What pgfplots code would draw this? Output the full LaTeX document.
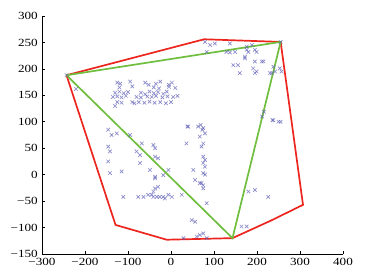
\documentclass[border=0pt]{standalone}
\usepackage{fontspec}
\setmainfont{Liberation Serif}
\usepackage{pgfplots}
\pgfplotsset{compat=1.18}
\definecolor{ptcol}{RGB}{90,90,180}
\definecolor{hullred}{RGB}{236,38,30}
\definecolor{hullgreen}{RGB}{112,190,62}
\begin{document}
\begin{tikzpicture}
\begin{axis}[
  scale only axis,
  width=301bp, height=238bp,
  xmin=-300, xmax=400, ymin=-150, ymax=300,
  axis lines*=left,
  axis line style={black, line width=0.9bp},
  tick align=inside,
  major tick length=3bp,
  tick style={black, line width=0.7bp},
  xtick={-300,-200,...,400},
  xticklabels={−300,−200,−100,0,100,200,300,400},
  ytick={-150,-100,...,300},
  yticklabels={−150,−100,−50,0,50,100,150,200,250,300},
  tick label style={font=\fontsize{11}{11}\selectfont, /tikz/xscale=1.2, /tikz/transform shape},
  xticklabel style={yshift=-1bp},
  clip=false,
]
\addplot[only marks, mark=x, mark size=2.5bp, mark options={ptcol, line width=0.65bp, opacity=0.7}] coordinates {
(-243,188) (-221,162)
(-125,174) (-118,172) (-95,176) (-60,174) (-52,170) (-35,172) (-25,176) (-5,170) (2,174)
(-120,165) (-90,167) (-40,165) (-28,163) (-5,166) (10,164)
(-130,155) (-120,157) (-110,154) (-100,156) (-70,155) (-60,152) (-50,157) (-40,154) (-30,156) (-18,153) (-10,157)
(-135,147) (-125,148) (-115,146) (-105,149) (-80,147) (-70,146) (-55,148) (-45,147) (-35,149) (-20,146) (-8,148) (5,147) (15,149)
(-125,137) (-115,136) (-90,137) (-85,135) (-75,137) (-62,136) (-50,138) (-38,136) (-25,137) (-12,135) (0,137)
(-130,130)
(79,251) (91,245) (102,248) (137,248) (176,242) (188,245) (195,236) (176,236)
(83,232) (129,232) (137,231) (149,232) (180,232) (199,232)
(172,220) (195,214) (211,214) (215,214) (172,223) (145,207) (156,207)
(191,201) (199,195) (195,192) (160,192) (230,192) (242,195) (253,201) (238,204) (234,192) (257,195) (255,251)
(216,119) (212,110) (236,103) (255,100) (238,103) (250,100)
(38,91) (69,94) (73,85)
(-146,85) (-138,75) (-126,78) (-95,75)
(-146,53) (-142,44) (-80,44) (-68,59) (-72,37) (-41,56) (-37,50) (-37,34) (-30,31)
(-146,25) (-142,3) (-115,6) (-72,22) (-49,9) (-37,-4) (-18,-1) (-6,9)
(40,91) (63,91) (75,88) (67,72) (36,59) (71,53) (75,34) (75,22) (52,9) (75,3)
(79,78) (75,59) (79,28) (79,15) (79,0) (71,-16) (75,-26) (83,-54)
(180,-32) (195,-29) (226,-42) (164,-98) (176,-98) (75,-111)
(-111,-42) (-76,-42) (-64,-42) (-53,-38) (-45,-38) (-41,-32) (-37,-26) (-30,-23)
(-41,-42) (-33,-42) (-26,-42) (-18,-42) (-14,-45) (-6,-38) (2,-42) (25,-38)
(-37,-7) (56,-10) (67,-16) (75,-20)
(48,-86) (56,-89) (60,-117) (67,-114) (29,-120) (83,-120)
};
\addplot[hullred, line width=1.7bp] coordinates {
(-243,188) (77,256) (255,251) (307,-57) (232,-87) (143,-120) (-10,-123) (-129,-95) (-243,188)
};
\addplot[hullgreen, line width=1.7bp] coordinates {
(-243,188) (255,251) (143,-120) (-243,188)
};
\end{axis}
\path ([xshift=-42bp,yshift=-24bp]current axis.south west) rectangle ([xshift=25bp,yshift=16bp]current axis.north east);
\end{tikzpicture}
\end{document}
